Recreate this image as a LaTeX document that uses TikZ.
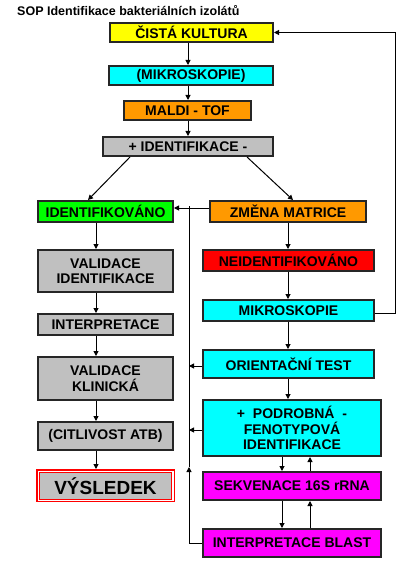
\documentclass[tikz,border=0pt]{standalone}
\usepackage{fontspec}
\setmainfont{Liberation Sans}
\usetikzlibrary{arrows.meta,calc}
\definecolor{cyel}{HTML}{FFFF00}
\definecolor{ccyan}{HTML}{00FFFF}
\definecolor{corange}{HTML}{FF9900}
\definecolor{cgray}{HTML}{C0C0C0}
\definecolor{cgreen}{HTML}{00FF00}
\definecolor{cred}{HTML}{FF0000}
\definecolor{cmag}{HTML}{FF00FF}
\begin{document}
\begin{tikzpicture}[x=1pt,y=-1pt,
  box/.style={draw=black!85, line width=2pt, inner sep=0pt, align=center,
    font=\bfseries\fontsize{14}{15.5}\selectfont, text=black},
  conn/.style={line width=1pt, draw=black},
  arr/.style={conn, -{Triangle[length=5pt,width=5pt]}}]
\useasboundingbox[fill=white] (0,0) rectangle (413,572);

\node[anchor=base west, inner sep=0pt, font=\bfseries\fontsize{12.5}{14}\selectfont] (title) at (17,16) {SOP Identifikace bakteriálních izolátů};

% main column
\node[box, fill=cyel, minimum width=163, minimum height=19] (cista) at (191.5,32.5) {ČISTÁ KULTURA};
\node[box, fill=ccyan, minimum width=164, minimum height=19] (mik1) at (191,75.5) {(MIKROSKOPIE)};
\node[box, fill=corange, minimum width=127, minimum height=19] (maldi) at (187.5,110.5) {MALDI - TOF};
\node[box, fill=cgray, minimum width=170, minimum height=19] (ident) at (188,146.5) {+ IDENTIFIKACE -};

% left column
\node[box, fill=cgreen, minimum width=135, minimum height=21] (identif) at (105.5,211.5) {IDENTIFIKOVÁNO};
\node[box, fill=cgray, minimum width=135, minimum height=42] (valid) at (105.5,271) {VALIDACE\\IDENTIFIKACE};
\node[box, fill=cgray, minimum width=135, minimum height=21] (interp) at (105.5,324.5) {INTERPRETACE};
\node[box, fill=cgray, minimum width=135, minimum height=43] (validk) at (105.5,378.5) {VALIDACE\\KLINICKÁ};
\node[box, fill=cgray, minimum width=135, minimum height=28] (citl) at (105.5,436) {(CITLIVOST ATB)};
\node[draw=cred, line width=1.5pt, fill=white, inner sep=0pt, minimum width=137.5, minimum height=31.5] (vysout) at (105.5,485.5) {};
\node[draw=cred, line width=1pt, fill=cgray, inner sep=0pt, minimum width=132, minimum height=27,
  font=\bfseries\fontsize{19}{20}\selectfont] (vys) at (105.5,486) {VÝSLEDEK};

% right column
\node[box, fill=corange, minimum width=156, minimum height=21] (zmena) at (288,211.5) {ZMĚNA MATRICE};
\node[box, fill=cred, minimum width=171, minimum height=21] (neid) at (288.5,260.5) {NEIDENTIFIKOVÁNO};
\node[box, fill=ccyan, minimum width=171, minimum height=21] (mik2) at (288.5,310.5) {MIKROSKOPIE};
\node[box, fill=ccyan, minimum width=171, minimum height=28] (orient) at (288.5,364) {ORIENTAČNÍ TEST};
\node[box, fill=ccyan, minimum width=178, minimum height=56] (podrob) at (292,428) {+ \ PODROBNÁ \ -\\FENOTYPOVÁ\\IDENTIFIKACE};
\node[box, fill=cmag, minimum width=178, minimum height=28] (sekv) at (292,486) {SEKVENACE 16S rRNA};
\node[box, fill=cmag, minimum width=178, minimum height=28] (blast) at (292,543) {INTERPRETACE BLAST};

% helper coordinates
\coordinate (cx) at (188,0);
\coordinate (lx) at (96,0);
\coordinate (rx) at (288,0);
\coordinate (dnx) at (282,0);
\coordinate (upx) at (310,0);
\coordinate (dla) at (130,0);
\coordinate (dlb) at (88,0);
\coordinate (dra) at (247,0);
\coordinate (drb) at (293,0);
\coordinate (fbx) at (395,0);
\coordinate (vtop) at (189,206);
\coordinate (vmid) at (189,467);
\coordinate (vx) at (189,0);

% main column connectors
\draw[arr] (cista.south -| cx) -- (mik1.north -| cx);
\draw[arr] (mik1.south -| cx) -- (maldi.north -| cx);
\draw[arr] (maldi.south -| cx) -- (ident.north -| cx);
\draw[arr] (ident.south -| dla) -- (identif.north -| dlb);
\draw[arr] (ident.south -| dra) -- (zmena.north -| drb);

% left column
\draw[arr] (identif.south -| lx) -- (valid.north -| lx);
\draw[arr] (valid.south -| lx) -- (interp.north -| lx);
\draw[arr] (interp.south -| lx) -- (validk.north -| lx);
\draw[arr] (validk.south -| lx) -- (citl.north -| lx);
\draw[arr] (citl.south -| lx) -- (vysout.north -| lx);

% right column
\draw[arr] ($(zmena.west)+(0,-3.5)$) -- ($(identif.east)+(0,-3.5)$);
\draw[arr] (zmena.south -| rx) -- (neid.north -| rx);
\draw[arr] (neid.south -| rx) -- (mik2.north -| rx);
\draw[arr] (mik2.south -| rx) -- (orient.north -| rx);
\draw[arr] (orient.south -| rx) -- (podrob.north -| rx);
\draw[arr] (podrob.south -| dnx) -- (sekv.north -| dnx);
\draw[arr] (sekv.north -| upx) -- (podrob.south -| upx);
\draw[arr] (sekv.south -| dnx) -- (blast.north -| dnx);
\draw[arr] (blast.north -| upx) -- (sekv.south -| upx);

% feedback loop
\draw[arr] ($(mik2.east)+(0,2.5)$) -| (fbx |- cista.east) -- (cista.east);

% return line
\draw[arr] (blast.west) -| (vmid);
\draw[conn] (vmid) -- (vtop);
\draw[arr] ($(orient.west)+(0,2)$) -- ($(orient.west -| vx)+(0,2)$);
\draw[arr] ($(podrob.west)+(0,2)$) -- ($(podrob.west -| vx)+(0,2)$);
\end{tikzpicture}
\end{document}
